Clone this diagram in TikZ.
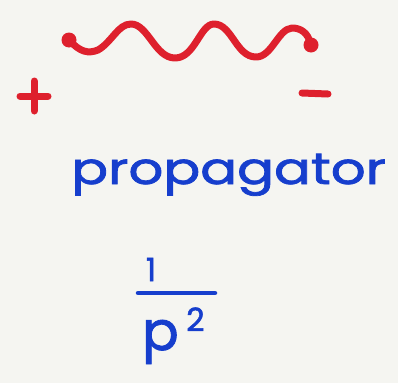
\documentclass[tikz,border=0pt]{standalone}
\usepackage{fontspec}
\setmainfont{Poppins}
\newfontfamily\hand{Poppins}[FakeBold=1.6]
\usetikzlibrary{calc}
\definecolor{paper}{RGB}{245,245,241}
\definecolor{ink}{RGB}{222,32,45}
\definecolor{pen}{RGB}{22,62,205}
\begin{document}
\begin{tikzpicture}[x=1pt,y=-1pt,
  redline/.style={draw=ink,line width=7pt,line cap=round,line join=round},
  blueline/.style={draw=pen,line width=4.5pt,line cap=round},
  bluetext/.style={text=pen,inner sep=0pt}]
\fill[paper] (0,0) rectangle (398,383);
\useasboundingbox (0,0) rectangle (398,383);
% wave endpoints
\coordinate (wl) at (69,40);
\coordinate (wr) at (311,45);
\fill[ink] (wl) circle (7.5pt);
\fill[ink] (wr) circle (7.5pt);
\draw[redline] (wl) .. controls (80,52) and (88,54) .. (98,50)
  .. controls (112,42) and (118,24) .. (131,24)
  .. controls (148,24) and (155,58) .. (175,58)
  .. controls (195,58) and (200,24) .. (214,24)
  .. controls (232,24) and (236,57) .. (256,57)
  .. controls (272,57) and (278,29) .. (292,28)
  .. controls (300,28) and (308,32) .. (wr);
% plus and minus
\coordinate (pc) at (34,96);
\draw[redline] ($(pc)+(-14,0)$) -- ($(pc)+(14,0)$);
\draw[redline] ($(pc)+(0,-15)$) -- ($(pc)+(0,15)$);
\coordinate (ml) at (302,93);
\coordinate (mr) at (328,94);
\draw[redline] (ml) -- (mr);
% label
\node[bluetext,anchor=base west,font=\hand\fontsize{44}{44}\selectfont,xscale=1.24] (lab) at (71,184) {propagator};
% fraction
\node[bluetext,anchor=base,font=\hand\fontsize{32}{32}\selectfont] (one) at (151,281) {1};
\coordinate (bl) at (138,293);
\coordinate (br) at (215,293);
\draw[blueline] (bl) -- (br);
\node[bluetext,anchor=base west,font=\hand\fontsize{54}{54}\selectfont] (pp) at (142,350) {p};
\node[bluetext,anchor=base west,font=\hand\fontsize{32}{32}\selectfont] (two) at (186,331) {2};
\end{tikzpicture}
\end{document}
